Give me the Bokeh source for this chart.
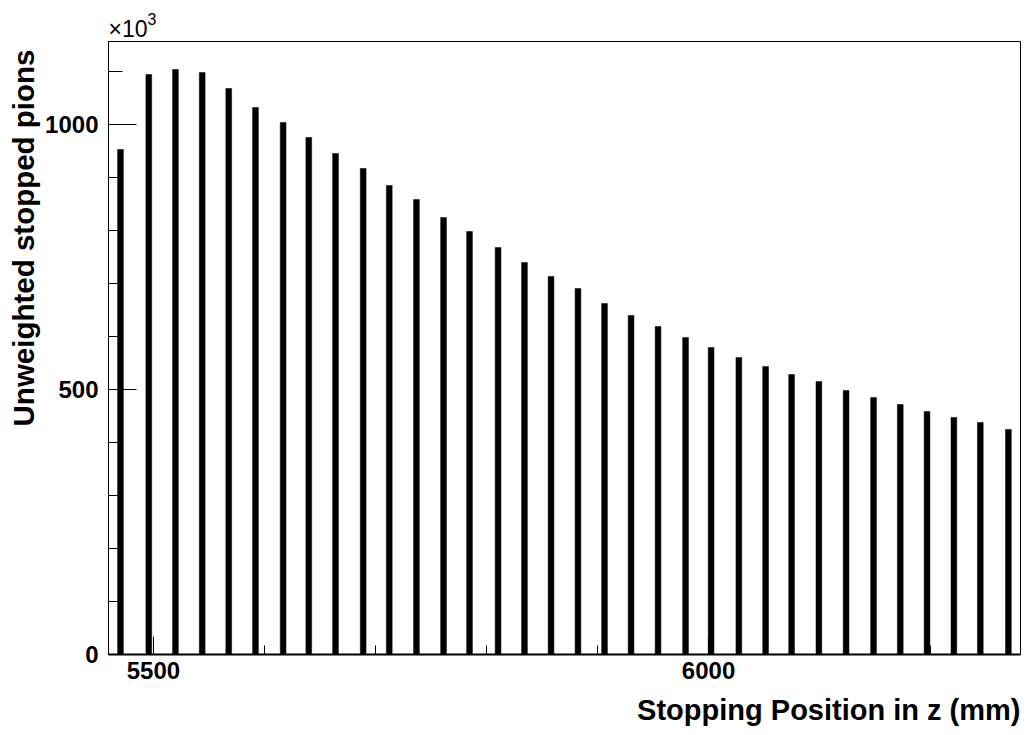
from bokeh.plotting import figure
from bokeh.models import FixedTicker, Title, ColumnDataSource, Range1d
from bokeh.embed import file_html
from bokeh.resources import INLINE

# Stopping position of each target foil (mm) and stopped-pion counts (x10^3)
foil_z = [5470.3, 5495.8, 5519.8, 5543.9, 5567.8, 5591.9, 5616.8, 5639.9,
          5664.0, 5688.9, 5712.4, 5736.9, 5761.3, 5784.7, 5810.4, 5834.2,
          5858.1, 5882.4, 5906.3, 5930.2, 5954.5, 5979.3, 6002.3, 6027.3,
          6051.4, 6074.8, 6099.4, 6123.9, 6148.6, 6172.7, 6196.8, 6221.0,
          6244.8, 6270.1]
stopped_k = [952.8, 1094.3, 1103.8, 1098.1, 1067.9, 1032.1, 1003.8, 975.5,
             945.3, 917.0, 884.9, 858.5, 824.5, 798.1, 767.9, 739.6,
             713.2, 690.6, 662.3, 639.6, 618.9, 598.1, 579.2, 560.4,
             543.4, 528.3, 515.1, 498.1, 484.9, 471.7, 458.5, 447.2,
             437.7, 424.5]

x_major = [5500, 6000]
x_minor = [5500, 5600, 5700, 5800, 5900, 6000, 6100, 6200]
y_major = [0, 500, 1000]
y_minor = [0, 100, 200, 300, 400, 500, 600, 700, 800, 900, 1000, 1100]

x_title = "Stopping Position in z (mm)"
y_title = "Unweighted stopped pions"
exp_base = "\u00d710"
exp_power = "3"

FONT = "Liberation Sans"

p = figure(width=1026, height=735, output_backend="svg", toolbar_location=None,
           x_range=Range1d(5459.5, 6281.0), y_range=Range1d(0, 1156.6),
           min_border_left=108, min_border_right=6, min_border_top=41,
           min_border_bottom=81)
p.background_fill_color = "white"
p.border_fill_color = "white"
p.grid.visible = False
p.outline_line_color = "black"
p.outline_line_width = 1

src = ColumnDataSource(dict(z=foil_z, n=stopped_k))
p.vbar(x="z", top="n", bottom=0, width=5.2, source=src,
       fill_color="black", line_color="black", line_width=0.5)

# x axis (ticks drawn inward)
xa = p.xaxis[0]
xa.ticker = FixedTicker(ticks=x_major, minor_ticks=x_minor)
xa.major_tick_in = 18
xa.major_tick_out = 0
xa.minor_tick_in = 9
xa.minor_tick_out = 0
xa.axis_line_width = 2
xa.major_label_text_font = FONT
xa.major_label_text_font_style = "bold"
xa.major_label_text_font_size = "24px"
xa.major_label_text_color = "black"
xa.major_label_standoff = 7

# y axis (ticks drawn inward)
ya = p.yaxis[0]
ya.ticker = FixedTicker(ticks=y_major, minor_ticks=y_minor)
ya.major_tick_in = 28
ya.major_tick_out = 0
ya.minor_tick_in = 14
ya.minor_tick_out = 0
ya.axis_line_width = 1
ya.major_label_text_font = FONT
ya.major_label_text_font_style = "bold"
ya.major_label_text_font_size = "24px"
ya.major_label_text_color = "black"
ya.major_label_standoff = 10

# axis titles, right-aligned to the end of each axis
p.add_layout(Title(text=x_title, align="right", text_font=FONT,
                   text_font_style="bold", text_font_size="29px",
                   text_color="black", standoff=20), "below")
p.add_layout(Title(text=y_title, align="right", text_font=FONT,
                   text_font_style="bold", text_font_size="29.5px",
                   text_color="black", standoff=5, offset=8), "left")

# exponent marker at the top of the y axis: "x10" with a raised "3"
p.add_layout(Title(text=exp_base, align="left", text_font=FONT,
                   text_font_style="normal", text_font_size="23px",
                   text_color="black", standoff=-1), "above")
p.title.text = exp_power
p.title.align = "left"
p.title.offset = 39
p.title.text_font = FONT
p.title.text_font_style = "normal"
p.title.text_font_size = "16px"
p.title.text_color = "black"
p.title.standoff = -21

open("out.html", "w").write(file_html(p, INLINE))
